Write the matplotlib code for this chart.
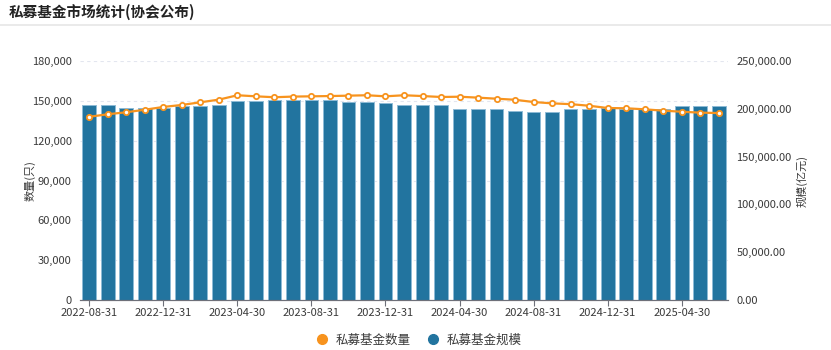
import matplotlib

matplotlib.use("Agg")
import matplotlib.pyplot as plt
from matplotlib.lines import Line2D

plt.rcParams["font.family"] = ["Noto Sans CJK SC", "DejaVu Sans"]

dates = [
    "2022-08-31", "2022-09-30", "2022-10-31", "2022-11-30", "2022-12-31",
    "2023-01-31", "2023-02-28", "2023-03-31", "2023-04-30", "2023-05-31",
    "2023-06-30", "2023-07-31", "2023-08-31", "2023-09-30", "2023-10-31",
    "2023-11-30", "2023-12-31", "2024-01-31", "2024-02-29", "2024-03-31",
    "2024-04-30", "2024-05-31", "2024-06-30", "2024-07-31", "2024-08-31",
    "2024-09-30", "2024-10-31", "2024-11-30", "2024-12-31", "2025-01-31",
    "2025-02-28", "2025-03-31", "2025-04-30", "2025-05-31", "2025-06-30",
]

# 私募基金数量 (只)
fund_count = [
    138000, 139900, 141400, 143300, 145400, 146900, 148900, 150900, 154200, 153400,
    152700, 153200, 153400, 153600, 153900, 154200, 153400, 154200, 153600, 152900,
    153100, 152400, 151600, 150800, 149100, 148100, 147500, 146300, 144600, 144400,
    143600, 142600, 141800, 141100, 140800,
]

# 私募基金规模 (亿元)
fund_scale = [
    204300, 204300, 200500, 200400, 201200, 202600, 203200, 204000, 208200, 208500,
    208900, 209200, 209200, 208900, 206800, 206800, 206400, 204000, 203700, 203700,
    199800, 199800, 199800, 197400, 197000, 197000, 199800, 199600, 200500, 199800,
    199800, 199800, 202900, 203200, 203200,
]

BAR_COLOR = "#22749f"
LINE_COLOR = "#f7931e"
TEXT_COLOR = "#3a3a3a"

fig = plt.figure(figsize=(8.31, 3.5), dpi=100)
fig.text(0.01, 0.965, "私募基金市场统计(协会公布)", fontsize=10.5, fontweight="bold",
         color="#222222", va="center")
fig.add_artist(Line2D([0, 1], [0.93, 0.93], color="#e6e6e6", lw=1.2))

ax_l = fig.add_axes([80 / 831, 50 / 350, 648 / 831, 239 / 350])
ax_r = ax_l.twinx()

x = list(range(len(dates)))
ax_r.bar(x, fund_scale, width=0.74, color=BAR_COLOR, edgecolor="#8dbbd6",
         linewidth=0.7, zorder=2)
ax_r.set_ylim(0, 250000)
ax_r.set_yticks(range(0, 250001, 50000))
ax_r.set_yticklabels([f"{v:,.2f}" for v in range(0, 250001, 50000)])

# left axis line drawn on top of bars
ax_l.set_zorder(ax_r.get_zorder() + 1)
ax_l.patch.set_visible(False)
ax_l.plot(x, fund_count, color=LINE_COLOR, lw=1.6, marker="o", markersize=3.8,
          markerfacecolor="white", markeredgecolor=LINE_COLOR, markeredgewidth=1.3,
          zorder=3)
ax_l.set_ylim(0, 180000)
ax_l.set_yticks(range(0, 180001, 30000))
ax_l.set_yticklabels([f"{v:,}" for v in range(0, 180001, 30000)])
ax_l.set_xlim(-0.5, len(dates) - 0.5)
ax_l.set_xticks(x[::4])
ax_l.set_xticklabels(dates[::4])

for v in range(30000, 180001, 30000):
    ax_r.axhline(v / 180000 * 250000, color="#e3e6ef", lw=0.8, ls=(0, (3, 3)), zorder=0)

for ax in (ax_l, ax_r):
    for s in ("top", "left", "right"):
        ax.spines[s].set_visible(False)
    ax.spines["bottom"].set_color("#6e7079")
    ax.tick_params(axis="y", length=0, labelsize=8, colors=TEXT_COLOR, pad=6)
ax_l.tick_params(axis="x", length=4, color="#6e7079", labelsize=8, labelcolor=TEXT_COLOR, pad=2)

ax_l.set_ylabel("数量(只)", fontsize=8, color=TEXT_COLOR)
ax_l.yaxis.set_label_coords(-0.068, 0.5)
ax_r.set_ylabel("规模(亿元)", fontsize=8, color=TEXT_COLOR, rotation=90)
ax_r.yaxis.set_label_coords(1.106, 0.5)

handles = [
    Line2D([], [], marker="o", ls="", color=LINE_COLOR, markersize=7),
    Line2D([], [], marker="o", ls="", color=BAR_COLOR, markersize=7),
]
fig.legend(handles, ["私募基金数量", "私募基金规模"], loc="center",
           bbox_to_anchor=(0.5, 10 / 350), ncol=2, frameon=False,
           fontsize=9, handletextpad=0.1, columnspacing=0.8, labelcolor=TEXT_COLOR)

fig.savefig("out.png", dpi=100)
